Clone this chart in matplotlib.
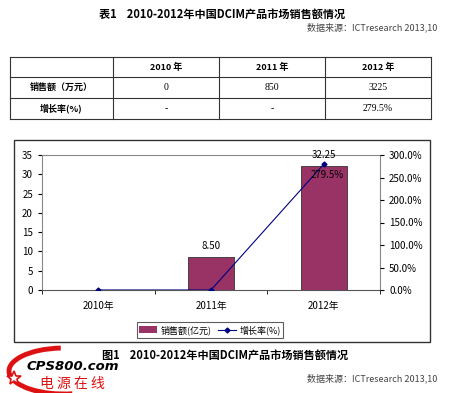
import numpy as np
import matplotlib.pyplot as plt
from matplotlib.patches import Rectangle, Arc
from matplotlib.ticker import FuncFormatter, MultipleLocator

plt.rcParams['font.family'] = ['Noto Sans CJK SC', 'DejaVu Sans']

# data
years = ['2010年', '2011年', '2012年']
sales = [0, 8.50, 32.25]          # 亿元
growth = [0.0, 0.0, 2.795]        # fraction
bar_labels = ['', '8.50', '32.25']
rate_labels = ['', '', '279.5%']

table_head = ['2010 年', '2011 年', '2012 年']
table_rows = ['销售额（万元）', '增长率(%)']
table_vals = [['0', '850', '3225'], ['-', '-', '279.5%']]

title_tab = '表1    2010-2012年中国DCIM产品市场销售额情况'
title_fig = '图1    2010-2012年中国DCIM产品市场销售额情况'
source = '数据来源：ICTresearch 2013,10'

fig = plt.figure(figsize=(4.5, 3.93), dpi=100)
bg = fig.add_axes([0, 0, 1, 1])
bg.set_xlim(0, 450)
bg.set_ylim(393, 0)
bg.axis('off')

# table title + source
bg.text(222, 14, title_tab, ha='center', va='center', fontsize=8, fontweight='bold')
bg.text(437, 27, source, ha='right', va='center', fontsize=6.5, style='italic', color='#444444')

# table
cols = [10, 113, 219, 325, 431]
rows = [57, 77, 98, 119]
for y in rows:
    bg.plot([cols[0], cols[-1]], [y, y], color='#333333', lw=0.8)
for x in cols:
    bg.plot([x, x], [rows[0], rows[-1]], color='#333333', lw=0.8)
for i, h in enumerate(table_head):
    bg.text((cols[i + 1] + cols[i + 2]) / 2, (rows[0] + rows[1]) / 2, h,
            ha='center', va='center', fontsize=6.5, fontweight='bold')
for r, name in enumerate(table_rows):
    yc = (rows[r + 1] + rows[r + 2]) / 2
    bg.text((cols[0] + cols[1]) / 2, yc, name, ha='center', va='center', fontsize=6.5, fontweight='bold')
    for i, v in enumerate(table_vals[r]):
        bg.text((cols[i + 1] + cols[i + 2]) / 2, yc, v, ha='center', va='center',
                fontsize=7, family=['Liberation Serif', 'DejaVu Serif'])

# chart frame
bg.add_patch(Rectangle((14, 140), 416, 202, fill=False, ec='#333333', lw=1.0))

# figure caption + source
bg.text(225, 355, title_fig, ha='center', va='center', fontsize=8, fontweight='bold')
bg.text(437, 378, source, ha='right', va='center', fontsize=6.5, style='italic', color='#444444')

# logo
bg.add_patch(Arc((64, 371), 110, 46, theta1=70, theta2=262, color='#dd1111', lw=3.5))
bg.plot([14], [378], marker='*', ms=10, mfc='white', mec='#dd1111', mew=1.2)
bg.text(27, 367, 'CPS800.com', ha='left', va='center', fontsize=9.5, fontweight='bold',
        style='italic', family='DejaVu Sans')
bg.text(40, 384, '电 源 在 线', ha='left', va='center', fontsize=10, color='#dd1111')

# chart
ax = fig.add_axes([42 / 450, 1 - 290 / 393, 338 / 450, 135 / 393])
x = np.arange(len(years))
edges = ['none' if v == 0 else '#333333' for v in sales]
bars = ax.bar(x, sales, width=0.41, color='#993366', edgecolor=edges, lw=0.6, zorder=2)
ax.set_xlim(-0.5, 2.5)
ax.set_ylim(0, 35)
ax.yaxis.set_major_locator(MultipleLocator(5))
ax.set_xticks(x)
ax.set_xticklabels(years)
ax.set_xticks([-0.5, 0.5, 1.5, 2.5], minor=True)
ax.tick_params(axis='x', which='major', length=0, pad=8, labelsize=7)
ax.tick_params(axis='x', which='minor', length=3, direction='out')
ax.tick_params(axis='y', labelsize=7, length=3, direction='out')
for s in ['top', 'right', 'left']:
    ax.spines[s].set_color('#888888')
    ax.spines[s].set_linewidth(0.8)
ax.spines['bottom'].set_color('#555555')
for i, lab in enumerate(bar_labels):
    if lab:
        ax.text(x[i], sales[i] + 1.5, lab, ha='center', va='bottom', fontsize=7)

ax2 = ax.twinx()
line, = ax2.plot(x, growth, color='#000080', lw=0.8, marker='D', ms=2.5, zorder=3)
ax2.set_ylim(0, 3.0)
ax2.yaxis.set_major_locator(MultipleLocator(0.5))
ax2.yaxis.set_major_formatter(FuncFormatter(lambda v, p: '%.1f%%' % (v * 100)))
ax2.tick_params(axis='y', labelsize=7, length=3, direction='out')
for s in ax2.spines.values():
    s.set_visible(False)
for i, lab in enumerate(rate_labels):
    if lab:
        ax2.text(x[i] + 0.03, growth[i] - 0.12, lab, ha='center', va='top', fontsize=7)

leg = fig.legend([bars, line], ['销售额(亿元)', '增长率(%)'], loc='center',
                 bbox_to_anchor=(210 / 450, 1 - 330 / 393), ncol=2, fontsize=6.5,
                 frameon=True, fancybox=False, edgecolor='#333333',
                 handlelength=2.0, handleheight=0.8, columnspacing=0.6,
                 handletextpad=0.4, borderpad=0.3)
leg.get_frame().set_linewidth(0.8)

fig.savefig('out.png', dpi=100)
